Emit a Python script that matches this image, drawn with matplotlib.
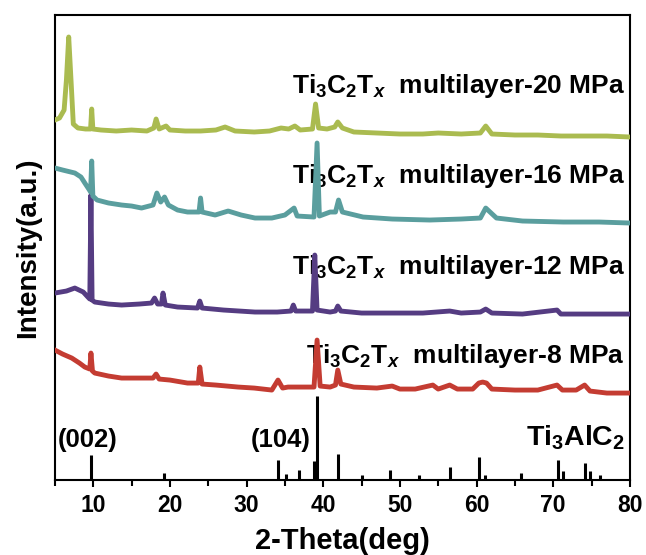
import matplotlib
matplotlib.use('Agg')
import matplotlib.pyplot as plt

plt.rcParams['font.family'] = ['Liberation Sans', 'DejaVu Sans']
plt.rcParams['font.weight'] = 'bold'
plt.rcParams['mathtext.fontset'] = 'custom'
plt.rcParams['mathtext.rm'] = 'Liberation Sans:bold'
plt.rcParams['mathtext.it'] = 'Liberation Sans:bold:italic'
plt.rcParams['mathtext.bf'] = 'Liberation Sans:bold'

# intensities in arbitrary units (offset stacked as in the figure)
x_20 = [5.0, 5.6, 6.2, 6.5, 6.8, 7.1, 7.4, 8.0, 9.0, 9.65, 9.8, 9.95, 11, 13, 15, 17, 17.9, 18.2, 18.6,
        19.5, 20, 22, 24, 26, 27.2, 28.5, 31, 33, 34.5, 35.5, 36.3, 37, 38.6, 39.0, 39.4, 40.5, 41.5, 41.9,
        42.5, 44, 47, 50, 53, 55, 58, 60.5, 61.2, 62, 65, 68, 71, 74, 77, 80]
y_20 = [360, 362, 370, 400, 443, 400, 356, 352, 351, 351, 371, 351, 350, 349, 350, 349, 352, 361, 351,
        354, 350, 349, 349, 350, 353, 349, 348, 349, 352, 351, 354, 350, 351, 376, 352, 351, 353, 358,
        352, 348, 347, 346, 346, 347, 346, 347, 354, 346, 345, 345, 344, 344, 344, 343]

x_16 = [5.0, 6, 7.6, 8.4, 8.9, 9.5, 9.65, 9.8, 9.95, 10.5, 12, 13.7, 15, 16.3, 17.8, 18.3, 18.8, 19.3,
        19.8, 21, 22.3, 23.8, 24.0, 24.2, 25.9, 27.6, 29.3, 31.1, 33.3, 35, 36.2, 36.6, 38.8, 39.2, 39.5,
        40.9, 41.6, 42.0, 42.5, 45.2, 49, 53.9, 58, 60.5, 61.2, 62.6, 66, 71.3, 76, 80]
y_16 = [312, 310, 307, 303, 297, 290, 288, 319, 284, 280, 277, 275, 274, 272, 275, 287, 278, 283,
        275, 270, 268, 268, 282, 268, 265, 269, 265, 262, 262, 265, 272, 264, 263, 337, 264,
        268, 268, 280, 268, 263, 261, 260, 261, 262, 272, 262, 259, 258, 258, 257]

x_12 = [5.0, 6.5, 7.6, 8.7, 9.3, 9.55, 9.7, 9.85, 10.2, 12, 13.7, 16, 17.6, 18.0, 18.4, 18.9, 19.1, 19.4,
        21, 23.6, 23.9, 24.2, 27, 31.1, 34, 35.8, 36.1, 36.4, 38.6, 38.9, 39.2, 40.9, 41.6, 41.9, 42.3,
        45, 49.6, 53, 56.5, 58, 60.5, 61.2, 62, 66, 70.5, 71, 75, 80]
y_12 = [187, 189, 192, 188, 183, 181, 285, 180, 178, 176, 175, 176, 177, 182, 176, 176, 187, 175,
        173, 172, 179, 172, 170, 168, 168, 169, 175, 169, 169, 225, 170, 168, 169, 174, 169,
        167, 167, 167, 169, 167, 168, 171, 167, 166, 170, 166, 166, 166]

x_8 = [5.0, 6, 7.2, 8.2, 8.9, 9.55, 9.7, 9.9, 10.2, 12, 13.7, 16, 17.8, 18.2, 18.6, 20, 22.3, 23.7,
       23.9, 24.2, 26, 28.9, 31, 33.3, 34.1, 34.7, 35.4, 36.5, 38.8, 39.2, 39.6, 40.9, 41.6, 41.9, 42.3,
       44, 47, 49, 50, 52, 54.3, 55, 56.5, 57.5, 59.5, 60.3, 60.8, 61.3, 62, 65, 68, 70.5, 71.2, 73,
       74.1, 74.8, 77, 80]
y_8 = [130, 126, 122, 117, 113, 111, 127, 109, 107, 104, 102, 102, 102, 106, 101, 100, 97, 97,
       113, 96, 95, 93, 92, 90, 100, 92, 93, 93, 93, 140, 94, 93, 95, 110, 96,
       93, 92, 94, 91, 91, 95, 91, 95, 91, 91, 97, 98, 97, 91, 90, 90, 95, 90, 90,
       95, 89, 87, 87]

# Ti3AlC2 reference pattern
ref_pos = [9.7, 19.2, 34.1, 35.1, 36.8, 38.8, 39.2, 41.9, 45.0, 48.7, 52.5, 56.6, 60.3, 61.1,
           65.8, 70.6, 71.3, 74.1, 74.8, 76.1]
ref_int = [25, 7, 20, 6, 10, 19, 84, 26, 5, 10, 5, 13, 23, 5, 7, 20, 9, 17, 9, 5]

fig = plt.figure(figsize=(6.46, 5.55), dpi=100)
ax = fig.add_axes([0.085, 0.135, 0.89, 0.838])

ax.vlines(ref_pos, 0, ref_int, color='black', lw=2.2, zorder=2)
ax.plot(x_8, y_8, color='#c43c32', lw=3.5, zorder=3)
ax.plot(x_12, y_12, color='#553c82', lw=3.5, zorder=4)
ax.plot(x_16, y_16, color='#5a9e9e', lw=3.5, zorder=5)
ax.plot(x_20, y_20, color='#aabb50', lw=3.5, zorder=6)

lab = r'Ti$_3$C$_2$T$_x$  multilayer-%s MPa'
ax.text(79.35, 387, lab % '20', ha='right', va='baseline', fontsize=19, zorder=1)
ax.text(79.35, 297, lab % '16', ha='right', va='baseline', fontsize=19, zorder=1)
ax.text(79.35, 206, lab % '12', ha='right', va='baseline', fontsize=19, zorder=1)
ax.text(79.35, 117, lab % '8', ha='right', va='baseline', fontsize=19, zorder=1)
ax.text(79.35, 35, r'Ti$_3$AlC$_2$', ha='right', va='baseline', fontsize=20.5, zorder=1)
ax.text(5.4, 33, '(002)', ha='left', va='baseline', fontsize=18.5, zorder=1)
ax.text(38.3, 33, '(104)', ha='right', va='baseline', fontsize=18.5, zorder=1)

ax.set_xlim(5, 80)
ax.set_ylim(0, 465)
ax.set_xticks(range(10, 81, 10))
ax.set_xticks(range(5, 80, 5), minor=True)
ax.set_yticks([])
ax.tick_params(axis='x', which='major', direction='out', length=5, width=1.5, labelsize=16.5, pad=5)
ax.tick_params(axis='x', which='minor', direction='out', length=4, width=1.5)
for s in ax.spines.values():
    s.set_linewidth(1.5)

ax.set_xlabel('2-Theta(deg)', fontsize=21, fontweight='bold', labelpad=7)
ax.set_ylabel('Intensity(a.u.)', fontsize=20, fontweight='bold', labelpad=10)

fig.savefig('out.png', dpi=100)
